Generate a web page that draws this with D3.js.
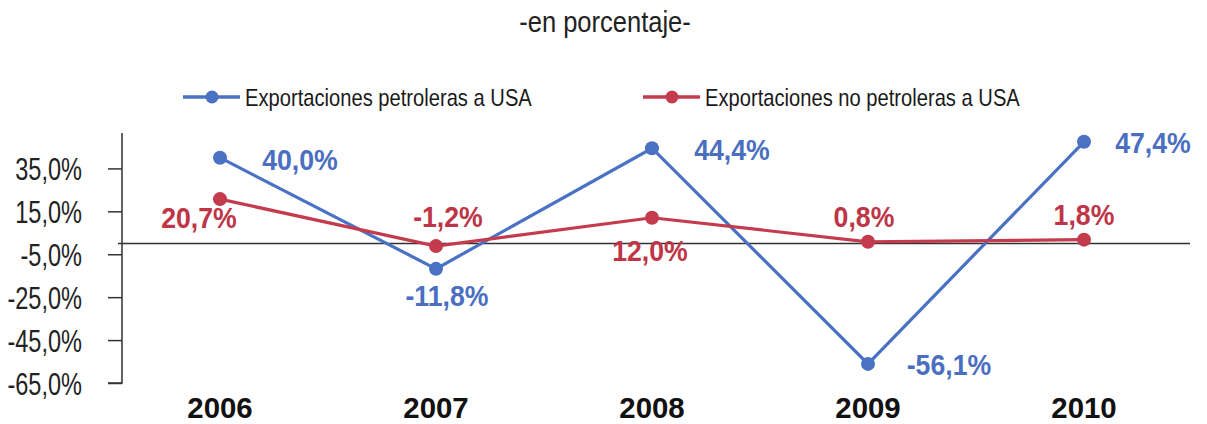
<!DOCTYPE html>
<html><head><meta charset="utf-8">
<script src="https://cdn.jsdelivr.net/npm/d3@7"></script>
<style>body{margin:0;background:#fff}</style>
</head><body>
<svg id="c" width="1207" height="424"></svg>
<script>
const years = ["2006","2007","2008","2009","2010"];
const petroleras = [40.0, -11.8, 44.4, -56.1, 47.4];
const noPetroleras = [20.7, -1.2, 12.0, 0.8, 1.8];
const yTicks = [35, 15, -5, -25, -45, -65];
const seriesNames = ["Exportaciones petroleras a USA", "Exportaciones no petroleras a USA"];
const colors = ["#4A72C4", "#C33B4C"];
const labelColors = ["#4B6FC0", "#BE3547"];

const font = "'Liberation Sans',Arial,sans-serif";
const svg = d3.select("#c");

// place a text at (x,y) squeezed horizontally by sx
function place(t, px, py, sx) {
  t.attr("x", 0).attr("y", 0).attr("transform", `translate(${px},${py}) scale(${sx},1)`);
}

const x = d3.scalePoint().domain(years).range([220, 1084]);
const y = d3.scaleLinear().domain([-65, 51.5]).range([383, 133]);

// title
place(svg.append("text").attr("text-anchor", "middle")
  .attr("font-family", font).attr("font-size", 29).attr("fill", "#222").text("-en porcentaje-"), 605, 32, 0.88);

// legend
const legX = [183, 643];
seriesNames.forEach((n, i) => {
  const g = svg.append("g");
  g.append("line").attr("x1", legX[i]).attr("x2", legX[i] + 57).attr("y1", 97).attr("y2", 97)
    .attr("stroke", colors[i]).attr("stroke-width", 3.5);
  g.append("circle").attr("cx", legX[i] + 29).attr("cy", 97).attr("r", 6.5).attr("fill", colors[i]);
  place(g.append("text").attr("font-family", font)
    .attr("font-size", 24).attr("fill", "#1a1a1a").text(n), legX[i] + 62, 106, 0.84);
});

// y axis
const sxTick = 0.76;
const yAxis = d3.axisLeft(y).tickValues(yTicks).tickSize(14).tickPadding(26)
  .tickFormat(d => d.toFixed(1).replace(".", ",") + "%");
const ga = svg.append("g").attr("transform", "translate(122,0)").call(yAxis);
ga.select(".domain").attr("stroke", "#333").attr("stroke-width", 1.5).attr("d", "M-14,383H0V133");
ga.selectAll(".tick line").attr("stroke", "#333").attr("stroke-width", 1.5);
ga.selectAll(".tick text").attr("font-family", font).attr("font-size", 31).attr("fill", "#222")
  .attr("dy", "0.36em").attr("x", -40 / sxTick).attr("transform", `scale(${sxTick},1)`);

// zero line
svg.append("line").attr("x1", 118).attr("x2", 1190).attr("y1", y(0)).attr("y2", y(0))
  .attr("stroke", "#333").attr("stroke-width", 1.5);

// x labels
svg.append("g").selectAll("text").data(years).join("text")
  .attr("text-anchor", "middle")
  .attr("font-family", font).attr("font-weight", "bold").attr("font-size", 30).attr("fill", "#111")
  .text(d => d)
  .each(function(d) { place(d3.select(this), x(d), 418, 0.98); });

// lines
const line = d3.line().x((d, i) => x(years[i])).y(d => y(d));
[petroleras, noPetroleras].forEach((s, k) => {
  svg.append("path").datum(s).attr("d", line).attr("fill", "none")
    .attr("stroke", colors[k]).attr("stroke-width", 3.2);
  svg.append("g").selectAll("circle").data(s).join("circle")
    .attr("cx", (d, i) => x(years[i])).attr("cy", d => y(d)).attr("r", 7).attr("fill", colors[k]);
});

// data labels: offsets relative to point
const offP = [[80, 12], [11, 37], [80, 12], [81, 11], [69, 11]];
const offN = [[-21, 29], [12, -19], [-2, 43], [-4, -15], [0, -15]];
const fmt = d => d.toFixed(1).replace(".", ",") + "%";
[[petroleras, offP], [noPetroleras, offN]].forEach(([s, off], k) => {
  svg.append("g").selectAll("text").data(s).join("text")
    .attr("text-anchor", "middle")
    .attr("font-family", font).attr("font-weight", "bold").attr("font-size", 29)
    .attr("fill", labelColors[k]).text(fmt)
    .each(function(d, i) { place(d3.select(this), x(years[i]) + off[i][0], y(d) + off[i][1], 0.92); });
});
</script>
</body></html>
